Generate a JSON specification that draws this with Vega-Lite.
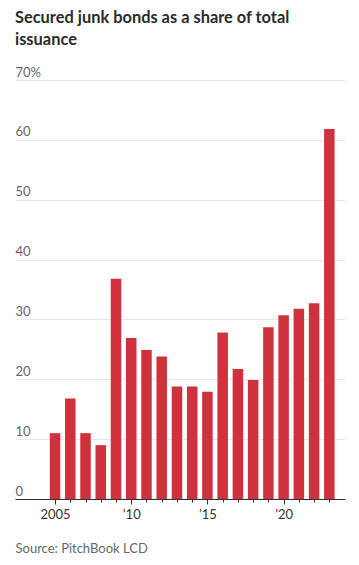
{
  "$schema": "https://vega.github.io/schema/vega-lite/v6.json",
  "width": 330,
  "height": 419,
  "autosize": {"type": "none"},
  "padding": {"left": 15, "top": 80, "right": 14, "bottom": 66},
  "background": "white",
  "title": {
    "text": ["Secured junk bonds as a share of total", "issuance"],
    "anchor": "start",
    "frame": "group",
    "font": "Lato",
    "fontSize": 16.4,
    "fontWeight": "bold",
    "color": "#2b2b2b",
    "lineHeight": 22,
    "offset": 18
  },
  "data": {
    "values": [
      {"year": 2005, "share": 11.0},
      {"year": 2006, "share": 16.8},
      {"year": 2007, "share": 11.0},
      {"year": 2008, "share": 9.0},
      {"year": 2009, "share": 36.8},
      {"year": 2010, "share": 26.9},
      {"year": 2011, "share": 24.9},
      {"year": 2012, "share": 23.8},
      {"year": 2013, "share": 18.8},
      {"year": 2014, "share": 18.8},
      {"year": 2015, "share": 17.9},
      {"year": 2016, "share": 27.8},
      {"year": 2017, "share": 21.7},
      {"year": 2018, "share": 19.9},
      {"year": 2019, "share": 28.7},
      {"year": 2020, "share": 30.7},
      {"year": 2021, "share": 31.8},
      {"year": 2022, "share": 32.7},
      {"year": 2023, "share": 61.8}
    ]
  },
  "mark": {"type": "bar", "width": 10.5, "color": "#cf313d"},
  "encoding": {
    "x": {
      "field": "year",
      "type": "quantitative",
      "scale": {"domain": [2002.7, 2023.7], "nice": false, "zero": false},
      "axis": {
        "values": [2005, 2006, 2007, 2008, 2009, 2010, 2011, 2012, 2013, 2014, 2015, 2016, 2017, 2018, 2019, 2020, 2021, 2022, 2023],
        "labelExpr": "datum.value == 2005 ? '2005' : (datum.value % 5 == 0 ? '\u2019' + substring(toString(datum.value), 2, 4) : '')",
        "grid": false,
        "domainColor": "#333333",
        "domainWidth": 1,
        "tickColor": "#333333",
        "tickSize": {"condition": {"test": "datum.value % 5 == 0", "value": 5}, "value": 3},
        "labelPadding": 4,
        "labelFont": "Lato",
        "labelFontSize": 13,
        "labelColor": "#333333",
        "labelFlush": false,
        "title": "Source: PitchBook LCD",
        "titleFont": "Lato",
        "titleFontSize": 13,
        "titleFontWeight": "normal",
        "titleColor": "#666666",
        "titleAnchor": "start",
        "titleAlign": "left",
        "titleBaseline": "middle",
        "titleX": 0,
        "titleY": 49
      }
    },
    "y": {
      "field": "share",
      "type": "quantitative",
      "scale": {"domain": [0, 70], "nice": false},
      "axis": {
        "values": [0, 10, 20, 30, 40, 50, 60, 70],
        "labelExpr": "datum.value == 70 ? '70%' : datum.label",
        "domain": false,
        "ticks": false,
        "tickSize": 0,
        "labelAlign": "left",
        "labelBaseline": "alphabetic",
        "labelPadding": 0,
        "labelOffset": -4,
        "labelFont": "Lato",
        "labelFontSize": 13,
        "labelColor": "#666666",
        "gridColor": "#e8e8e8",
        "gridWidth": 1,
        "title": null
      }
    }
  },
  "config": {"view": {"stroke": null}}
}
